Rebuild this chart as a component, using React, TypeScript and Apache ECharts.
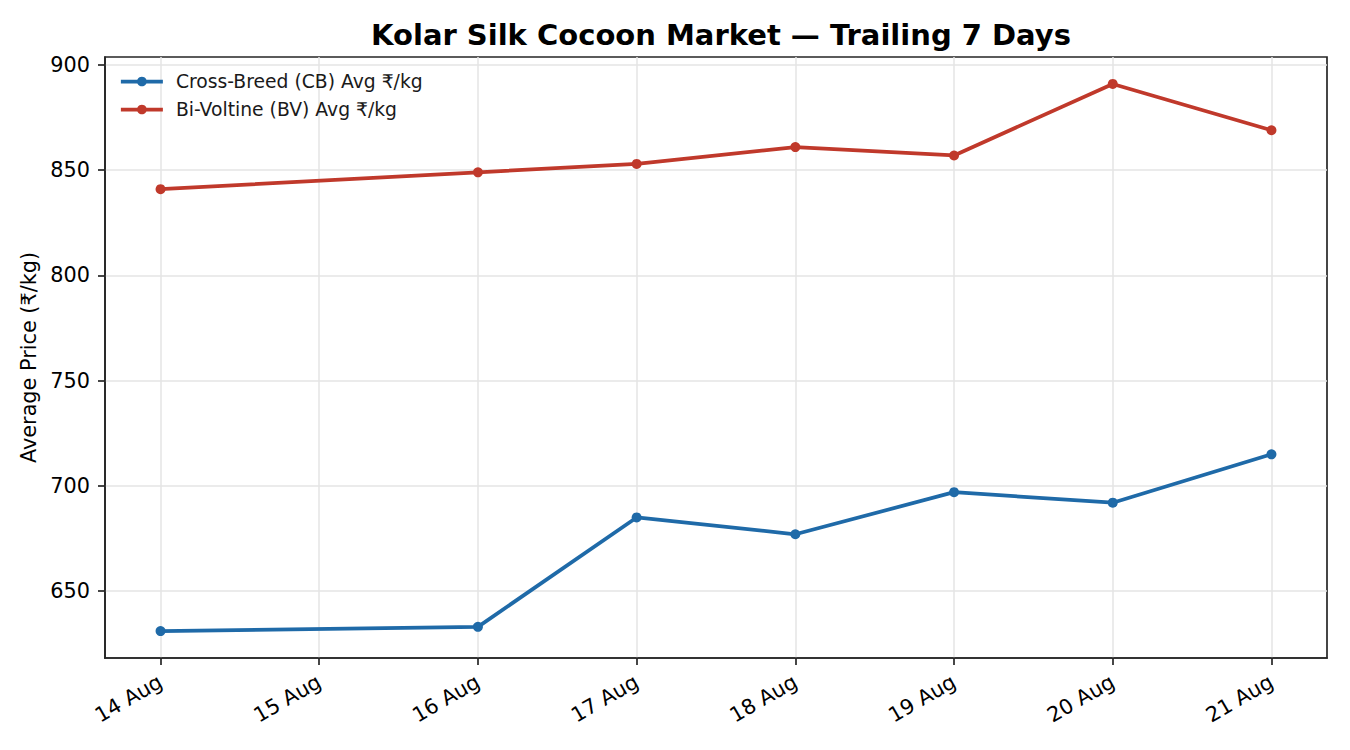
import React, { useEffect, useRef } from "react";
import * as echarts from "echarts";

const dayLabels = ["14 Aug", "15 Aug", "16 Aug", "17 Aug", "18 Aug", "19 Aug", "20 Aug", "21 Aug"];
const cbDays = [0, 2, 3, 4, 5, 6, 7];
const cbValues = [631, 633, 685, 677, 697, 692, 715];
const bvDays = [0, 2, 3, 4, 5, 6, 7];
const bvValues = [841, 849, 853, 861, 857, 891, 869];
const yTicks = [650, 700, 750, 800, 850, 900];

const FONT = "DejaVu Sans";
const AXIS = "#262626";
const GRIDC = "#e5e5e5";
const BLUE = "#1f6aa8";
const RED = "#c0392b";

export default function App() {
  const ref = useRef<HTMLDivElement>(null);
  useEffect(() => {
    if (!ref.current) return;
    const chart = echarts.init(ref.current, null, { renderer: "svg" });
    const xTicks = dayLabels.map((_, i) => i);
    chart.setOption({
      animation: false,
      backgroundColor: "#ffffff",
      textStyle: { fontFamily: FONT },
      title: {
        text: "Kolar Silk Cocoon Market — Trailing 7 Days",
        left: 716,
        top: 15,
        textAlign: "center",
        textStyle: { fontFamily: FONT, fontSize: 29, fontWeight: "bold", color: "#000" },
      },
      legend: {
        left: 114,
        top: 67,
        orient: "vertical",
        itemWidth: 42,
        itemHeight: 12,
        itemGap: 9,
        lineStyle: { width: 3.75 },
        textStyle: { fontFamily: FONT, fontSize: 18.75, color: "#1a1a1a", padding: [0, 0, 0, 8] },
        data: ["Cross-Breed (CB) Avg ₹/kg", "Bi-Voltine (BV) Avg ₹/kg"],
      },
      grid: {
        left: 105,
        right: 23,
        top: 57,
        bottom: 92,
        show: true,
        borderColor: AXIS,
        borderWidth: 1.7,
        backgroundColor: "transparent",
      },
      xAxis: {
        type: "value",
        min: -0.35,
        max: 7.35,
        axisLine: { show: true, onZero: false, lineStyle: { color: AXIS, width: 1.7 } },
        axisTick: { show: true, length: 7, lineStyle: { color: AXIS, width: 1.7 }, customValues: xTicks },
        axisLabel: {
          customValues: xTicks,
          rotate: 30,
          fontFamily: FONT,
          fontSize: 20.8,
          color: "#000",
          margin: 22,
          formatter: (v: number) => dayLabels[Math.round(v)] ?? "",
        },
        splitLine: { show: true, lineStyle: { color: GRIDC, width: 1.5 } },
      },
      yAxis: {
        type: "value",
        min: 618.2,
        max: 903.8,
        name: "Average Price (₹/kg)",
        nameLocation: "middle",
        nameGap: 59,
        nameRotate: 90,
        nameTextStyle: { fontFamily: FONT, fontSize: 20.8, color: "#000" },
        axisLine: { show: true, onZero: false, lineStyle: { color: AXIS, width: 1.7 } },
        axisTick: { show: true, length: 7, lineStyle: { color: AXIS, width: 1.7 }, customValues: yTicks },
        axisLabel: { customValues: yTicks, fontFamily: FONT, fontSize: 20.8, color: "#000", margin: 15 },
        splitLine: { show: true, lineStyle: { color: GRIDC, width: 1.5 } },
      },
      series: [
        {
          name: "Cross-Breed (CB) Avg ₹/kg",
          type: "line",
          data: cbDays.map((d, i) => [d, cbValues[i]]),
          color: BLUE,
          lineStyle: { width: 3.75, color: BLUE },
          itemStyle: { color: BLUE },
          symbol: "circle",
          symbolSize: 10,
          z: 3,
        },
        {
          name: "Bi-Voltine (BV) Avg ₹/kg",
          type: "line",
          data: bvDays.map((d, i) => [d, bvValues[i]]),
          color: RED,
          lineStyle: { width: 3.75, color: RED },
          itemStyle: { color: RED },
          symbol: "circle",
          symbolSize: 10,
          z: 3,
        },
      ],
    });
    return () => chart.dispose();
  }, []);
  return (
    <div
      ref={ref}
      style={{ position: "fixed", left: 0, top: 0, width: 1350, height: 750, background: "#fff" }}
    />
  );
}
